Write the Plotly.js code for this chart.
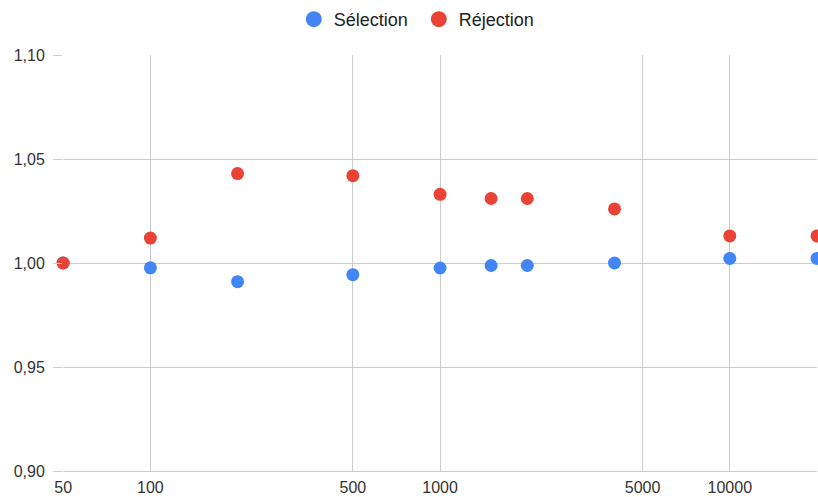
<!DOCTYPE html>
<html>
<head>
<meta charset="utf-8">
<script src="https://cdn.plot.ly/plotly-3.0.1.min.js"></script>
<style>html,body{margin:0;padding:0;background:#fff;}#chart{width:818px;height:497px;}</style>
</head>
<body>
<div id="chart"></div>
<script>
const xValues = [50, 100, 200, 500, 1000, 1500, 2000, 4000, 10000, 20000];
const selection = [1.000, 0.9977, 0.991, 0.9944, 0.9976, 0.9988, 0.9988, 1.000, 1.0022, 1.0022];
const rejection = [1.000, 1.012, 1.043, 1.042, 1.033, 1.031, 1.031, 1.026, 1.013, 1.013];
const seriesNames = ['Sélection', 'Réjection'];
const seriesColors = ['#4285f4', '#ea4335'];
const xTicks = [50, 100, 500, 1000, 5000, 10000];
const xTickText = ['50', '100', '500', '1000', '5000', '10000'];
const yTicks = [0.90, 0.95, 1.00, 1.05, 1.10];

const traces = [
  {x: xValues, y: selection, name: seriesNames[0], type: 'scatter', mode: 'markers', cliponaxis: false,
   showlegend: false, marker: {color: seriesColors[0], size: 13}},
  {x: xValues, y: rejection, name: seriesNames[1], type: 'scatter', mode: 'markers', cliponaxis: false,
   showlegend: false, marker: {color: seriesColors[1], size: 13}},
  {x: [null], y: [null], name: seriesNames[0], type: 'scatter', mode: 'markers',
   marker: {color: seriesColors[0], size: 16}},
  {x: [null], y: [null], name: seriesNames[1], type: 'scatter', mode: 'markers',
   marker: {color: seriesColors[1], size: 16}}
];

const layout = {
  width: 818, height: 497,
  margin: {l: 63, r: 1, t: 55, b: 26},
  separators: ', ',
  paper_bgcolor: '#fff', plot_bgcolor: '#fff',
  font: {family: 'Arial, "Liberation Sans", sans-serif', size: 14, color: '#444'},
  showlegend: true,
  legend: {orientation: 'h', x: 0.512, xref: 'container', xanchor: 'center', y: 0.998, yref: 'container', yanchor: 'top',
           font: {size: 18, color: '#222'}, entrywidth: 80},
  xaxis: {type: 'log', range: [Math.log10(50) - 0.0005, Math.log10(20000)],
          tickvals: xTicks, ticktext: xTickText,
          showgrid: true, gridcolor: '#cccccc', gridwidth: 1,
          zeroline: false, showline: true, linecolor: '#cccccc', linewidth: 1, ticks: '', ticklen: 0,
          ticklabelstandoff: 2,
          tickfont: {size: 16, color: '#333'}},
  yaxis: {range: [0.90, 1.10], tickvals: yTicks, tickformat: '.2f',
          showgrid: true, gridcolor: '#cccccc', gridwidth: 1,
          zeroline: false, showline: false, ticks: 'outside', ticklen: 9, tickcolor: '#cccccc',
          ticklabelstandoff: 5,
          tickfont: {size: 16, color: '#333'}}
};

Plotly.newPlot('chart', traces, layout, {displayModeBar: false, staticPlot: true});
</script>
</body>
</html>
